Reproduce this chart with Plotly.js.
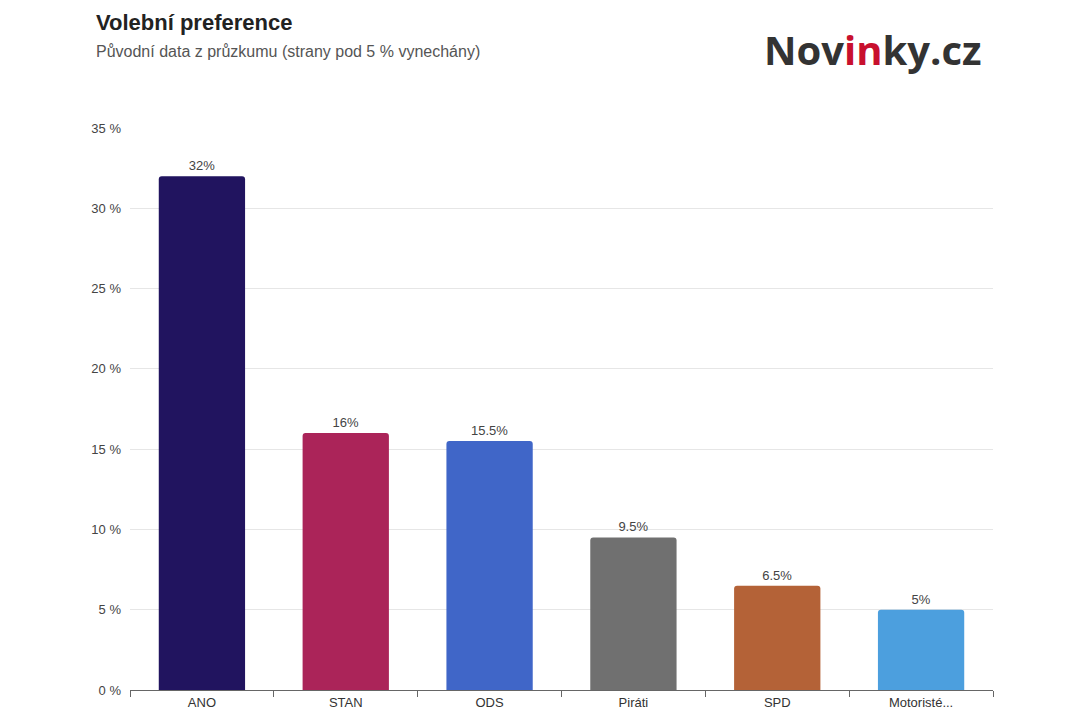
<!DOCTYPE html>
<html>
<head>
<meta charset="utf-8">
<script src="https://cdn.plot.ly/plotly-3.0.1.min.js"></script>
<style>
  body { margin: 0; background: #fff; }
  #chart { width: 1080px; height: 720px; }
</style>
</head>
<body>
<div id="chart"></div>
<script>
const parties = ["ANO", "STAN", "ODS", "Piráti", "SPD", "Motoristé..."];
const shares = [32, 16, 15.5, 9.5, 6.5, 5];
const partyColors = ["#21145f", "#ab2459", "#4066c8", "#707070", "#b46237", "#4c9fde"];

const bars = {
  type: "bar",
  x: parties,
  y: shares,
  marker: { color: partyColors, line: { width: 0 }, cornerradius: 3 },
  text: shares.map(v => v + "%"),
  textposition: "outside",
  cliponaxis: false,
  textfont: { family: "Liberation Sans, Arial", size: 13, color: "#444" },
  hoverinfo: "x+y",
};

const layout = {
  width: 1080,
  height: 720,
  margin: { l: 130, r: 87, t: 128, b: 30 },
  paper_bgcolor: "#fff",
  plot_bgcolor: "#fff",
  bargap: 0.4,
  showlegend: false,
  font: { family: "Liberation Sans, Arial", size: 13, color: "#444" },
  xaxis: {
    showline: true,
    linecolor: "#666",
    ticks: "outside",
    tickson: "boundaries",
    ticklen: 6,
    tickcolor: "#666",
    tickfont: { size: 13, color: "#333" },
  },
  yaxis: {
    range: [0, 35],
    dtick: 5,
    ticksuffix: " %",
    gridcolor: "#e6e6e6",
    zeroline: false,
    tickfont: { size: 13, color: "#444" },
    ticklabelstandoff: 8,
  },
  annotations: [
    { text: "<b>Volební preference</b>", xref: "paper", yref: "paper", x: -0.042, y: 1.188, xanchor: "left", yanchor: "middle", showarrow: false, font: { size: 22, color: "#222" }, align: "left", xshift: 0, },
    { text: "Původní data z průzkumu (strany pod 5 % vynechány)", xref: "paper", yref: "paper", x: -0.042, y: 1.137, xanchor: "left", yanchor: "middle", showarrow: false, font: { size: 16, color: "#555" } },
    { text: "<b>Nov<span style='color:#c8102e'>in</span>ky.cz</b>", xref: "paper", yref: "paper", x: 0.99, y: 1.14, xanchor: "right", yanchor: "middle", showarrow: false, font: { family: "Open Sans, DejaVu Sans", size: 40, color: "#333" } },
  ],
};

Plotly.newPlot("chart", [bars], layout, { displayModeBar: false });
</script>
</body>
</html>
